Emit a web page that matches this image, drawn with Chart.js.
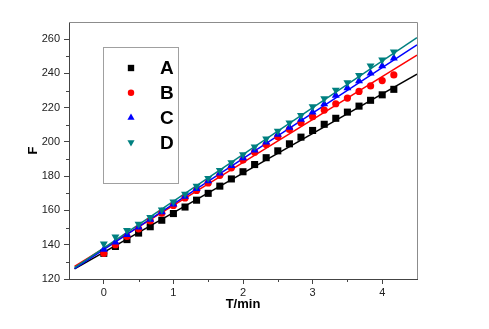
<!DOCTYPE html>
<html>
<head>
<meta charset="utf-8">
<script src="https://cdn.jsdelivr.net/npm/chart.js@4"></script>
<style>
  html, body { margin: 0; padding: 0; background: #fff; }
  #wrap { width: 489px; height: 329px; }
</style>
</head>
<body>
<div id="wrap"><canvas id="chart" width="489" height="329"></canvas></div>
<script>
// data
const seriesNames = ['A', 'B', 'C', 'D'];
const xVals = [0, 0.167, 0.333, 0.5, 0.667, 0.833, 1, 1.167, 1.333, 1.5, 1.667, 1.833, 2,
    2.167, 2.333, 2.5, 2.667, 2.833, 3, 3.167, 3.333, 3.5, 3.667, 3.833, 4, 4.167];
const valsA = [135, 139, 143, 146.8, 150.5, 154.3, 158.2, 162, 166, 170, 174.2, 178.4, 182.6,
    186.8, 190.8, 194.8, 198.9, 202.8, 206.7, 210.3, 213.8, 217.4, 220.9, 224.3, 227.5, 230.7];
const valsB = [135, 140, 144.8, 149.3, 153.9, 158.4, 162.9, 167.3, 171.7, 176.1, 180.5, 184.9, 189.4,
    194, 198.5, 203, 207.3, 211.2, 214.7, 218.6, 222.3, 225.6, 229.5, 232.7, 235.8, 239.1];
const valsC = [137.3, 141.5, 145.8, 150.2, 154.7, 159.2, 163.7, 168.2, 172.7, 177.2, 181.7, 186.2, 190.7,
    195.2, 199.8, 204.4, 208.5, 213.1, 217.4, 222.1, 227.2, 231.5, 235.6, 240.1, 244.4, 248.9];
const valsD = [140.5, 144.6, 148.4, 152, 156, 160.4, 165, 169.6, 174.2, 178.8, 183.4, 188, 192.6,
    197.2, 201.8, 206.3, 211.2, 215.5, 220.6, 225.3, 230.3, 234.6, 238.9, 244.4, 247.9, 252.6];

// linear fit lines (end points)
const fitX = [-0.42, 4.5];
const fitA = [125.9, 239.6];
const fitB = [127.4, 250.6];
const fitC = [126.0, 256.6];
const fitD = [126.6, 260.9];

const xTicks = [0, 1, 2, 3, 4];
const xMinor = [0.5, 1.5, 2.5, 3.5];
const yTicks = [120, 140, 160, 180, 200, 220, 240, 260];
const yMinor = [130, 150, 170, 190, 210, 230, 250];

const colors = ['#000000', '#ff0000', '#0000ff', '#008080'];
const styles = [
    { pointStyle: 'rect', radius: 5, rotation: 0 },
    { pointStyle: 'circle', radius: 3.6, rotation: 0 },
    { pointStyle: 'triangle', radius: 4.6, rotation: 0 },
    { pointStyle: 'triangle', radius: 4.6, rotation: 180 }
];

const allVals = [valsA, valsB, valsC, valsD];
const allFits = [fitA, fitB, fitC, fitD];

const datasets = [];
allVals.forEach((vals, i) => {
    datasets.push({
        label: seriesNames[i],
        data: vals.map((v, j) => ({ x: xVals[j], y: v })),
        backgroundColor: colors[i],
        borderColor: colors[i],
        borderWidth: 0,
        pointStyle: styles[i].pointStyle,
        pointRadius: styles[i].radius,
        rotation: styles[i].rotation,
        showLine: false,
        order: 4 - i
    });
});
allFits.forEach((fit, i) => {
    datasets.push({
        label: 'fit ' + seriesNames[i],
        data: fit.map((v, j) => ({ x: fitX[j], y: v })),
        borderColor: colors[i],
        borderWidth: 1.5,
        pointRadius: 0,
        showLine: true,
        order: 10 - i
    });
});

const frameAndLegend = {
    id: 'frameAndLegend',
    afterDraw(chart) {
        const ctx = chart.ctx;
        const a = chart.chartArea;
        const xs = chart.scales.x, ys = chart.scales.y;
        ctx.save();
        // top and right frame
        ctx.strokeStyle = '#8c8c8c';
        ctx.lineWidth = 1;
        ctx.beginPath();
        ctx.moveTo(a.left, a.top + 0.5);
        ctx.lineTo(a.right + 0.5, a.top + 0.5);
        ctx.lineTo(a.right + 0.5, a.bottom);
        ctx.stroke();
        // minor ticks
        ctx.strokeStyle = '#444';
        ctx.beginPath();
        yMinor.forEach(v => {
            const y = Math.round(ys.getPixelForValue(v)) + 0.5;
            ctx.moveTo(a.left - 3, y);
            ctx.lineTo(a.left, y);
        });
        xMinor.forEach(v => {
            const x = Math.round(xs.getPixelForValue(v)) + 0.5;
            ctx.moveTo(x, a.bottom);
            ctx.lineTo(x, a.bottom + 3);
        });
        ctx.stroke();
        // legend box
        ctx.strokeStyle = '#a0a0a0';
        ctx.strokeRect(103.5, 47.5, 75, 136);
        ctx.font = 'bold 19px "Liberation Sans", Arial, sans-serif';
        ctx.textBaseline = 'middle';
        ctx.textAlign = 'left';
        seriesNames.forEach((name, i) => {
            const y = 68 + i * 24.8;
            ctx.fillStyle = colors[i];
            ctx.strokeStyle = colors[i];
            Chart.helpers.drawPoint(ctx, {
                pointStyle: styles[i].pointStyle,
                rotation: styles[i].rotation,
                radius: styles[i].radius * 0.9,
                borderWidth: 0
            }, 131, y);
            ctx.fillStyle = '#000';
            ctx.fillText(name, 160, y + 1);
        });
        ctx.restore();
    }
};

const tickFont = { family: '"Liberation Sans", Arial, sans-serif', size: 11 };
const titleFont = { family: '"Liberation Sans", Arial, sans-serif', size: 13, weight: 'bold' };

new Chart(document.getElementById('chart').getContext('2d'), {
    type: 'scatter',
    data: { datasets },
    options: {
        responsive: false,
        animation: false,
        layout: { padding: { left: 0, top: 22, right: 72, bottom: 0 } },
        plugins: {
            legend: { display: false },
            tooltip: { enabled: false }
        },
        scales: {
            x: {
                type: 'linear',
                min: -0.5,
                max: 4.5,
                afterBuildTicks: s => { s.ticks = xTicks.map(v => ({ value: v })); },
                afterFit: s => { s.height = 50; },
                grid: { drawOnChartArea: false, tickLength: 5, color: '#444' },
                border: { display: true, color: '#444', width: 1 },
                ticks: { color: '#222', font: tickFont, padding: 2, maxRotation: 0 },
                title: { display: true, text: 'T/min', color: '#000', font: titleFont, padding: { top: 1, bottom: 17 } }
            },
            y: {
                type: 'linear',
                min: 120,
                max: 270,
                afterBuildTicks: s => { s.ticks = yTicks.map(v => ({ value: v })); },
                afterFit: s => { s.width = 69; },
                grid: { drawOnChartArea: false, tickLength: 5, color: '#444' },
                border: { display: true, color: '#444', width: 1 },
                ticks: { color: '#222', font: tickFont, padding: 4 },
                title: { display: true, text: 'F', color: '#000', font: titleFont, padding: { top: 26, bottom: 0 } }
            }
        }
    },
    plugins: [frameAndLegend]
});
</script>
</body>
</html>
